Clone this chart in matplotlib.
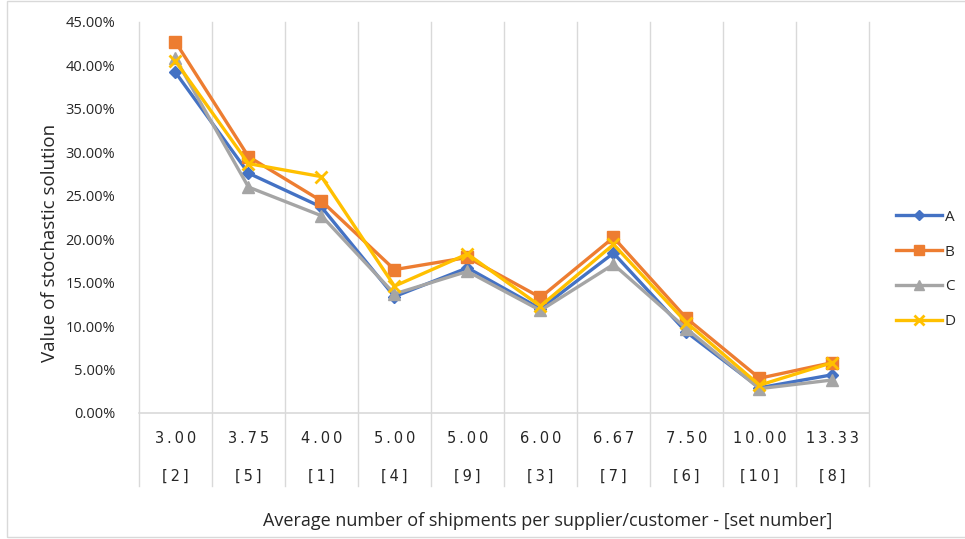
import matplotlib.pyplot as plt
from matplotlib.patches import Rectangle
from matplotlib.ticker import FuncFormatter
import matplotlib.transforms as mtransforms

plt.rcParams['font.family'] = ['Open Sans', 'DejaVu Sans']

# categorias: média de envios por fornecedor/cliente e número do conjunto
media_envios = ['3.00', '3.75', '4.00', '5.00', '5.00', '6.00', '6.67', '7.50', '10.00', '13.33']
conjunto = ['[2]', '[5]', '[1]', '[4]', '[9]', '[3]', '[7]', '[6]', '[10]', '[8]']

# valor da solução estocástica (%)
serie_a = [39.2, 27.6, 23.7, 13.4, 16.7, 12.0, 18.4, 9.3, 2.9, 4.4]
serie_b = [42.7, 29.5, 24.4, 16.5, 17.9, 13.3, 20.2, 10.9, 4.0, 5.8]
serie_c = [40.8, 26.0, 22.7, 13.7, 16.3, 11.8, 17.1, 9.7, 2.8, 3.8]
serie_d = [40.5, 28.7, 27.2, 14.6, 18.3, 12.3, 19.4, 10.4, 3.2, 5.8]
nomes = ['A', 'B', 'C', 'D']

cores = ['#4472C4', '#ED7D31', '#A5A5A5', '#FFC000']
marcadores = ['D', 's', '^', 'x']
tamanhos = [6, 8, 8, 8]
cinza = '#D9D9D9'
texto = '#262626'

fig = plt.figure(figsize=(9.65, 5.39), dpi=100)
ax = fig.add_axes([0.144, 0.2338, 0.7565, 0.7254])

x = list(range(len(media_envios)))
for serie, nome, cor, m, t in zip([serie_a, serie_b, serie_c, serie_d], nomes, cores, marcadores, tamanhos):
    ax.plot(x, serie, color=cor, linewidth=2.4, marker=m, markersize=t,
            markeredgewidth=2 if m == 'x' else 1, markeredgecolor=cor, label=nome, zorder=3)

ax.set_xlim(-0.5, len(x) - 0.5)
ax.set_ylim(0, 45)
ax.set_yticks(range(0, 50, 5))
ax.yaxis.set_major_formatter(FuncFormatter(lambda v, p: f'{v:.2f}%'))
ax.tick_params(axis='y', length=0, pad=17, labelsize=10.5, labelcolor=texto)
ax.set_xticks([])

for s in ax.spines.values():
    s.set_visible(False)

# linhas de separação das categorias (estendem-se até a área dos rótulos)
trans = mtransforms.blended_transform_factory(ax.transData, ax.transAxes)
for i in range(len(x) + 1):
    ax.plot([i - 0.5, i - 0.5], [-0.187, 1.0], color=cinza, linewidth=1,
            transform=trans, clip_on=False, zorder=1)
ax.plot([-0.5, len(x) - 0.5], [0, 0], color=cinza, linewidth=1.2,
        transform=trans, clip_on=False, zorder=1)

for i in x:
    ax.text(i, -0.064, '\u2009'.join(media_envios[i]), transform=trans, ha='center',
            va='center', fontsize=10.5, color=texto, family='DejaVu Sans')
    ax.text(i, -0.161, '\u2009'.join(conjunto[i]), transform=trans, ha='center',
            va='center', fontsize=10.5, color=texto, family='DejaVu Sans')

fig.text(548 / 965, 1 - 521 / 539, 'Average number of shipments per supplier/customer - [set number]',
         ha='center', va='center', fontsize=13, color=texto)
fig.text(50 / 965, 1 - 243 / 539, 'Value of stochastic solution', rotation=90,
         ha='center', va='center', fontsize=13.5, color=texto)

fig.legend(loc='center left', bbox_to_anchor=(0.914, 0.5), frameon=False,
           handlelength=3.0, handletextpad=0.2, labelspacing=1.3, fontsize=11,
           labelcolor=texto, markerscale=0.85)

# moldura externa
fig.patches.append(Rectangle((7 / 965, 2 / 539), 1.0, 1 - 3 / 539, transform=fig.transFigure,
                             fill=False, edgecolor=cinza, linewidth=1))

fig.savefig('out.png', dpi=100)
